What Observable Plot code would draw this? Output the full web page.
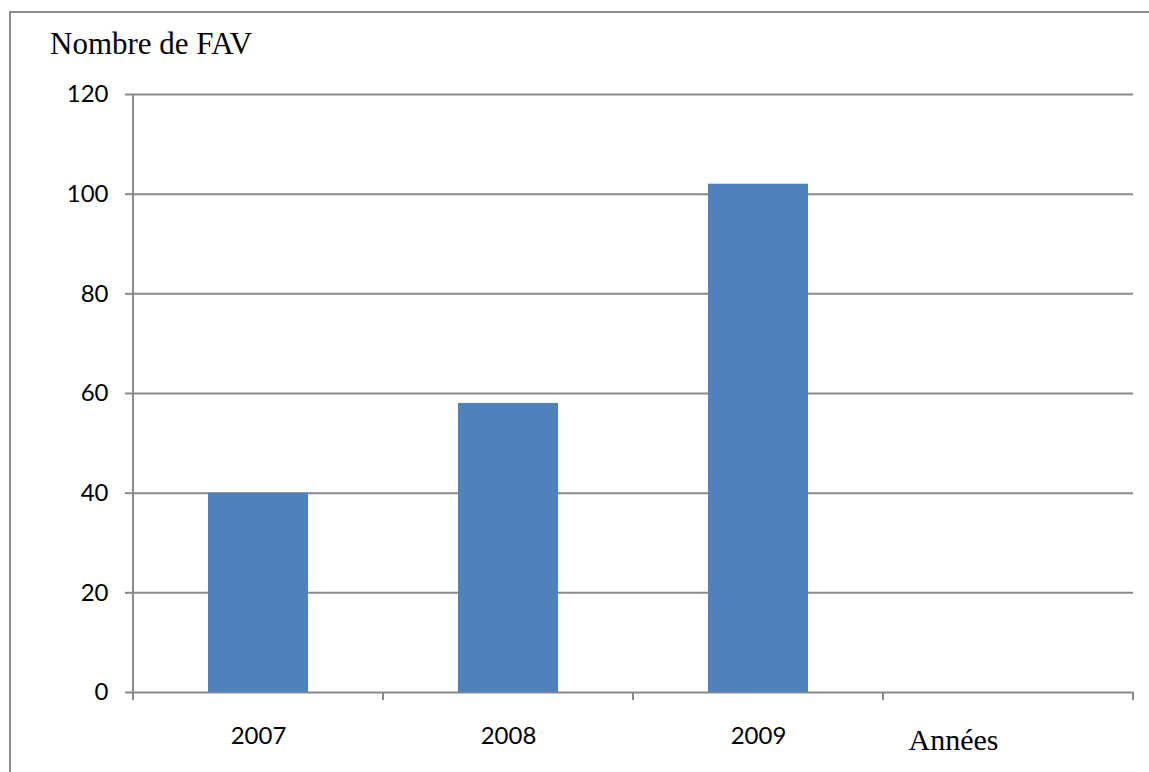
<!DOCTYPE html>
<html>
<head>
<meta charset="utf-8">
<script src="https://cdn.jsdelivr.net/npm/d3@7"></script>
<script src="https://cdn.jsdelivr.net/npm/@observablehq/plot@0.6"></script>
<style>
  html, body { margin: 0; background: #fff; }
  #chart { position: relative; width: 1149px; height: 772px; overflow: hidden; background: #fff; }
  #frame { position: absolute; left: 9px; top: 11px; right: -10px; bottom: -10px;
           border-left: 2px solid #8c8c8c; border-top: 2px solid #8c8c8c; }
  #title { position: absolute; left: 50px; top: 28px; font: 31px "Liberation Serif", "Times New Roman", serif;
           line-height: 1; color: #000; white-space: nowrap; }
  #plot { position: absolute; left: 0; top: 0; }
</style>
</head>
<body>
<div id="chart">
  <div id="frame"></div>
  <div id="plot"></div>
  <div id="title">Nombre de FAV</div>
</div>
<script>
// Number of FAV per year
const years = ["2007", "2008", "2009"];
const counts = [40, 58, 102];
const axisEnd = "Années";
const yTicks = [0, 20, 40, 60, 80, 100, 120];

const data = years.map((year, i) => ({year, count: counts[i]}));
const gray = "#898989";
const blue = "#4F81BD";

// Vertical axis line plus tick marks on the category boundaries
function categoryEdges(index, scales, values, dimensions) {
  const {width, marginLeft, marginRight} = dimensions;
  const left = marginLeft, right = width - marginRight;
  const n = scales.x.domain().length;
  const stepW = (right - left) / n;
  const y0 = scales.y(0), yTop = scales.y(120);
  const g = d3.create("svg:g")
    .attr("stroke", gray)
    .attr("stroke-width", 2);
  g.append("line")
    .attr("x1", left).attr("x2", left)
    .attr("y1", yTop).attr("y2", y0 + 8);
  for (let i = 0; i <= n; ++i) {
    const x = left + i * stepW;
    g.append("line")
      .attr("x1", x).attr("x2", x)
      .attr("y1", y0).attr("y2", y0 + 8);
  }
  return g.node();
}

const chart = Plot.plot({
  width: 1149,
  height: 772,
  marginLeft: 133,
  marginRight: 16,
  marginTop: 94,
  marginBottom: 80,
  style: {background: "transparent", fontFamily: "Lato, sans-serif", fontSize: "24px", color: "#000"},
  x: {domain: [...years, axisEnd], paddingInner: 0.6, paddingOuter: 0.3, label: null},
  y: {domain: [0, 120], label: null},
  marks: [
    Plot.gridY(yTicks, {stroke: gray, strokeOpacity: 1, strokeWidth: 2}),
    Plot.barY(data, {x: "year", y: "count", fill: blue}),
    Plot.axisY(yTicks, {tickSize: 8, tickPadding: 17, stroke: gray, strokeWidth: 2, strokeOpacity: 1,
                        fill: "#000", fontSize: 24, label: null}),
    Plot.axisX({tickSize: 0, tickPadding: 34, fontSize: 24, fill: "#000", label: null,
                tickFormat: d => d === axisEnd ? "" : d}),
    categoryEdges,
    Plot.text([axisEnd], {x: d => d, y: () => 0, text: d => d, lineAnchor: "bottom",
                          dx: -55, dy: 57, fontSize: 30, fill: "#000",
                          fontFamily: "'Liberation Serif', 'Times New Roman', serif"})
  ]
});

document.getElementById("plot").append(chart);
</script>
</body>
</html>
